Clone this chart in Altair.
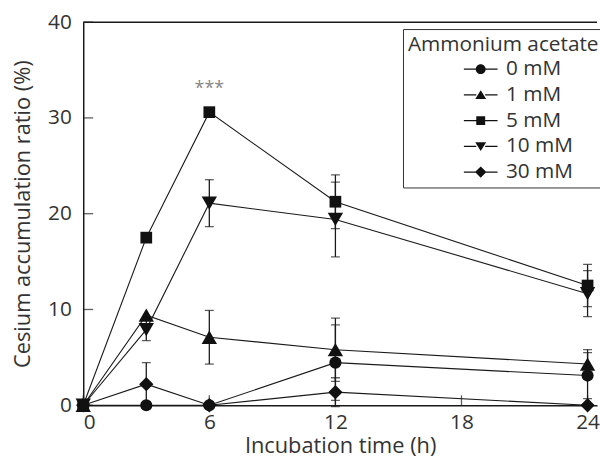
import altair as alt
import pandas as pd

# ---- data ----
times = [0, 3, 6, 12, 24]
concs = ["0 mM", "1 mM", "5 mM", "10 mM", "30 mM"]
mean_0 = [0, 0, 0, 4.45, 3.1]
err_0 = [0, 0, 0, 3.95, 2.4]
mean_1 = [0, 9.4, 7.1, 5.8, 4.3]
err_1 = [0, 0, 2.8, 3.3, 1.5]
mean_5 = [0, 17.5, 30.6, 21.25, 12.5]
err_5 = [0, 0.3, 0, 2.8, 2.2]
mean_10 = [0, 7.9, 21.1, 19.4, 11.65]
err_10 = [0, 1.15, 2.45, 3.9, 2.4]
mean_30 = [0, 2.2, 0, 1.37, 0]
err_30 = [0, 2.25, 0, 1.5, 0]

sig_time = [6]
sig_y = [33.0]
sig_text = ["***"]

x_ticks = [0, 6, 12, 18, 24]
y_ticks = [0, 10, 20, 30, 40]

means = [mean_0, mean_1, mean_5, mean_10, mean_30]
errs = [err_0, err_1, err_5, err_10, err_30]
marker_shapes = ["circle", "triangle-up", "square", "triangle-down", "diamond"]
marker_sizes = [150, 240, 140, 240, 210]

rows = []
for c, m, e in zip(concs, means, errs):
    for t, v, s in zip(times, m, e):
        rows.append({"conc": c, "time": t, "value": v, "err": s,
                     "lo": v - s, "hi": v + s})
df = pd.DataFrame(rows)
df_err = df[df["err"] > 0]
sig_df = pd.DataFrame({"time": sig_time, "y": sig_y, "t": sig_text})
xt_df = pd.DataFrame({"v": x_ticks})
yt_df = pd.DataFrame({"v": y_ticks})

FONT = "Open Sans"
TXT = "#333333"
INK = "#1a1a1a"

xscale = alt.Scale(domain=[0, 24.45], nice=False, zero=False)
yscale = alt.Scale(domain=[0, 40], nice=False)

xaxis = alt.Axis(values=x_ticks, ticks=False, title="Incubation time (h)",
                 labelFontSize=21, titleFontSize=22, labelFont=FONT, titleFont=FONT,
                 labelColor=TXT, titleColor=TXT, titleFontWeight="normal",
                 domainColor=INK, domainWidth=1.5, grid=False,
                 labelPadding=6, titlePadding=4, format="d")
yaxis = alt.Axis(values=y_ticks, ticks=False, title="Cesium accumulation ratio (%)",
                 labelFontSize=21, titleFontSize=22, labelFont=FONT, titleFont=FONT,
                 labelColor=TXT, titleColor=TXT, titleFontWeight="normal",
                 domainColor=INK, domainWidth=1.5, grid=False,
                 labelPadding=12, titlePadding=13, format="d")

X = alt.X("time:Q", scale=xscale, axis=xaxis)
Y = alt.Y("value:Q", scale=yscale, axis=yaxis)

base = alt.Chart(df)

lines = base.mark_line(color=INK, strokeWidth=1.1).encode(
    x=X, y=Y, detail="conc:N")

err_rule = alt.Chart(df_err).mark_rule(color=INK, strokeWidth=1.3).encode(
    x=alt.X("time:Q", scale=xscale), y=alt.Y("lo:Q", scale=yscale), y2="hi:Q")
cap_hi = alt.Chart(df_err).mark_tick(color=INK, orient="horizontal",
                                     size=9, thickness=1.3).encode(
    x=alt.X("time:Q", scale=xscale), y=alt.Y("hi:Q", scale=yscale))
cap_lo = alt.Chart(df_err).mark_tick(color=INK, orient="horizontal",
                                     size=9, thickness=1.3).encode(
    x=alt.X("time:Q", scale=xscale), y=alt.Y("lo:Q", scale=yscale))

# one point layer per series, fixed marker shape
point_layers = []
for c, shp, sz in zip(concs, marker_shapes, marker_sizes):
    point_layers.append(
        base.transform_filter(alt.datum.conc == c).mark_point(
            filled=True, color="#111111", opacity=1, shape=shp, size=sz).encode(
            x=alt.X("time:Q", scale=xscale),
            y=alt.Y("value:Q", scale=yscale)))

# legend glyphs: marker with a short line on each side (thin filled bars)
dash = ("M-3.4,-0.12L-0.9,-0.12L-0.9,0.12L-3.4,0.12Z"
        "M0.9,-0.12L3.4,-0.12L3.4,0.12L0.9,0.12Z")
legend_paths = [
    "M1,0A1,1,0,1,1,-1,0A1,1,0,1,1,1,0Z" + dash,
    "M0,-0.95L1.1,0.85L-1.1,0.85Z" + dash,
    "M-0.9,-0.9L0.9,-0.9L0.9,0.9L-0.9,0.9Z" + dash,
    "M0,0.95L1.1,-0.85L-1.1,-0.85Z" + dash,
    "M0,-1.15L1.15,0L0,1.15L-1.15,0Z" + dash,
]

legend_layer = base.mark_point(
    filled=True, color="#111111", opacity=0).encode(
    x=alt.X("time:Q", scale=xscale),
    y=alt.Y("value:Q", scale=yscale),
    shape=alt.Shape("conc:N", scale=alt.Scale(domain=concs, range=legend_paths),
                    legend=alt.Legend(
                        title="Ammonium acetate", orient="none",
                        legendX=323, legendY=7, titleLimit=400, labelLimit=300,
                        titleFont=FONT, titleFontSize=21, titleFontWeight="normal",
                        titleColor=TXT, titlePadding=4,
                        labelFont=FONT, labelFontSize=21, labelColor=TXT,
                        symbolSize=100, symbolOpacity=1,
                        symbolFillColor="#111111", symbolStrokeWidth=0,
                        symbolOffset=63, labelOffset=15, rowPadding=4,
                        strokeColor="#333333", padding=5, fillColor="white")),
)

top_rule = alt.Chart(pd.DataFrame({"y": [40]})).mark_rule(
    color=INK, strokeWidth=1.5).encode(y=alt.Y("y:Q", scale=yscale))

ytk = alt.Chart(yt_df).mark_tick(color=INK, orient="horizontal",
                                 size=10, thickness=1.3, xOffset=5).encode(
    y=alt.Y("v:Q", scale=yscale), x=alt.datum(0, scale=xscale))
xtk = alt.Chart(xt_df).mark_tick(color=INK, orient="vertical",
                                 size=10, thickness=1.3, yOffset=-5).encode(
    x=alt.X("v:Q", scale=xscale), y=alt.datum(0, scale=yscale))

sig = alt.Chart(sig_df).mark_text(color="#888888", fontSize=18, font=FONT,
                                  baseline="middle").encode(
    x=alt.X("time:Q", scale=xscale), y=alt.Y("y:Q", scale=yscale), text="t:N")

chart = alt.layer(
    lines, ytk, xtk, top_rule, err_rule, cap_hi, cap_lo, *point_layers, sig,
    legend_layer
).properties(
    width=519, height=387,
    autosize=alt.AutoSizeParams(type="none"),
    padding={"left": 76, "top": 12, "right": 3, "bottom": 51}
).configure_view(stroke=None)

chart.save("out.html", embed_options={"renderer": "svg", "actions": False})
